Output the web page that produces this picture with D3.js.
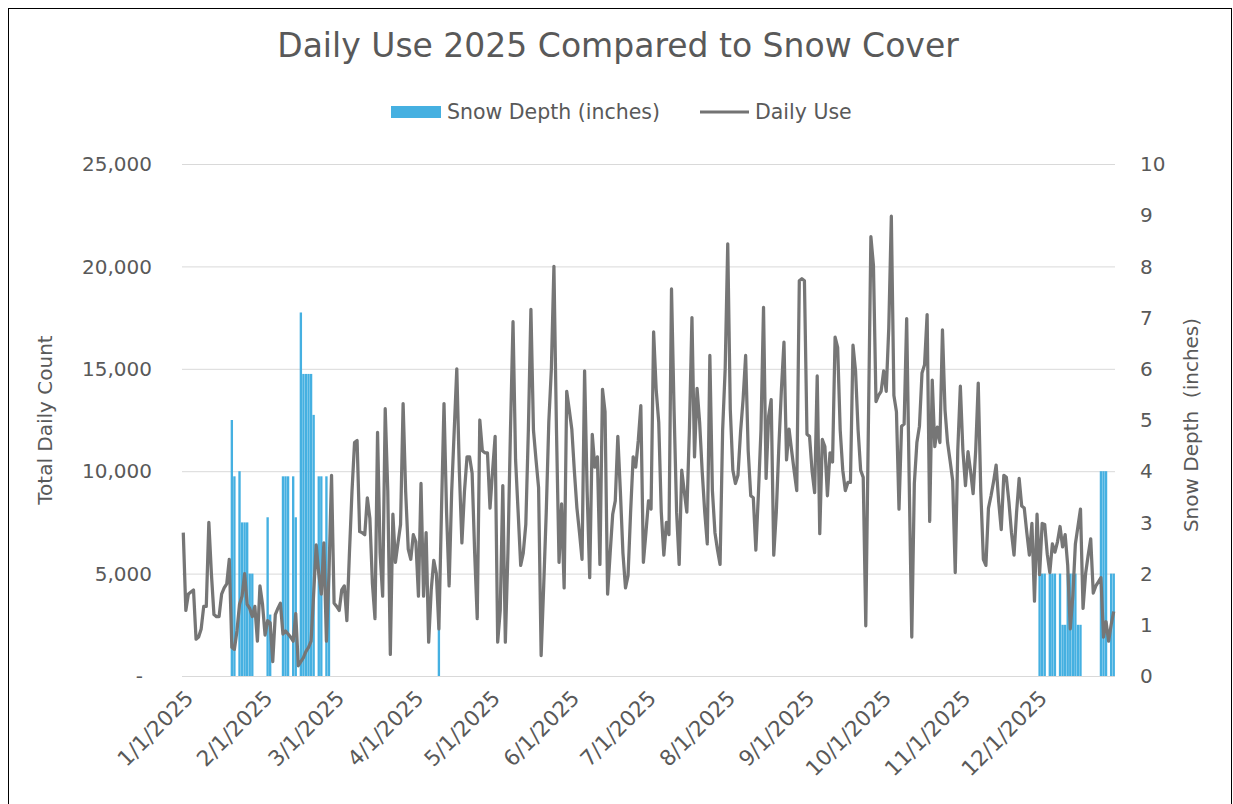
<!DOCTYPE html>
<html>
<head>
<meta charset="utf-8">
<script src="https://cdn.jsdelivr.net/npm/d3@7"></script>
<style>
  body { margin: 0; background: #fff; }
  text { font-family: "DejaVu Sans", sans-serif; fill: #595959; }
</style>
</head>
<body>
<div id="chart"></div>
<script>
// daily use counts, one value per day, by month
const jan = [7000, 3200, 4000, 4100, 4200, 1800, 1900, 2300, 3400, 3400, 7500, 5000, 3000, 2900, 2900, 4000,
  4300, 4500, 5700, 1400, 1300, 2200, 3500, 3900, 5000, 3500, 3300, 2900, 3400, 1700, 4400];
const feb = [3500, 2000, 2700, 2600, 700, 3000, 3300, 3550, 2050, 2200, 2050, 1900, 1700, 3050, 500, 700,
  900, 1200, 1400, 1700, 4000, 6400, 5000, 4000, 6500, 1700, 5000, 9800];
const mar = [3550, 3400, 3200, 4200, 4400, 2700, 6000, 9000, 11400, 11500, 7050, 7000, 6900, 8700, 7700, 4500,
  2800, 11900, 6000, 3900, 13050, 9050, 1050, 7900, 5550, 6500, 7400, 13300, 9000, 6200, 5700];
const apr = [6900, 6550, 3900, 9400, 3900, 7000, 1650, 4200, 5650, 5000, 2300, 8000, 13300, 8000, 4400, 9000,
  12000, 15000, 10000, 6500, 9000, 10700, 10700, 9900, 6000, 2800, 12500, 11000, 10900, 10900];
const may = [8200, 10000, 11700, 1650, 3200, 9300, 1650, 6000, 12000, 17300, 10550, 8000, 5400, 6000, 7400, 12000,
  17900, 12000, 10550, 9200, 1000, 4400, 8000, 12400, 15000, 20000, 12000, 5550, 8400, 4300, 13900];
const jun = [13000, 12050, 10000, 8200, 7000, 5700, 14900, 9000, 4800, 11800, 10200, 10700, 5450, 14000, 12900, 4000,
  6000, 7900, 8550, 11700, 9000, 6000, 4300, 4900, 8000, 10700, 10200, 11500, 13200, 5550];
const jul = [7000, 8550, 8150, 16800, 14000, 12400, 8000, 5900, 7500, 6900, 18900, 13000, 8000, 5450, 10050, 9000,
  8000, 12000, 17500, 10700, 14050, 12400, 10000, 8000, 6450, 15650, 9050, 7000, 6150, 5450, 12000];
const aug = [15000, 21100, 13000, 10050, 9400, 9800, 11900, 13500, 15650, 11000, 8800, 8700, 6150, 8900, 12000, 18000,
  9650, 12700, 13500, 5900, 8000, 11200, 14000, 16300, 10550, 12050, 11000, 10000, 9050, 19300, 19400];
const sep = [19300, 11800, 11700, 10000, 8950, 14650, 6950, 11550, 11200, 8800, 10900, 10450, 16550, 16050, 12000, 10050,
  9050, 9450, 9450, 16150, 14900, 12000, 10050, 9700, 2450, 12000, 21450, 20050, 13400, 13700];
const oct = [13900, 14900, 13900, 17000, 22450, 13700, 12900, 8150, 12200, 12300, 17450, 9450, 1900, 9400, 11400, 12200,
  14800, 15200, 17650, 7550, 14450, 11200, 12150, 11400, 16900, 13000, 11400, 10500, 9550, 5050, 11050];
const nov = [14150, 11000, 9300, 10950, 10000, 8900, 11000, 14300, 9000, 5700, 5400, 8200, 8800, 9500, 10300, 8500,
  7150, 9800, 9700, 8500, 7000, 5900, 8000, 9650, 8300, 8200, 7000, 5900, 7450, 3650];
const dec = [7900, 4950, 7450, 7400, 5950, 5050, 6450, 6050, 6550, 7300, 6300, 6900, 5400, 2300, 3900, 6450,
  7300, 8150, 3300, 5000, 5900, 6700, 4050, 4400, 4600, 4800, 1900, 2650, 1700, 2500, 3150];

// snow depth (inches), days with snow on the ground only
const snowDates = ["1/20", "1/21", "1/23", "1/24", "1/25", "1/26", "1/27", "1/28", "2/3", "2/4",
  "2/9", "2/10", "2/11", "2/13", "2/14", "2/16", "2/17", "2/18", "2/19", "2/20", "2/21", "2/23", "2/24", "2/26", "2/27",
  "4/11",
  "12/2", "12/3", "12/4", "12/6", "12/7", "12/8", "12/10", "12/11", "12/12", "12/13", "12/14", "12/15", "12/16",
  "12/17", "12/18", "12/26", "12/27", "12/28", "12/30", "12/31"];
const snowDepth = [5.0, 3.9, 4.0, 3.0, 3.0, 3.0, 2.0, 2.0, 3.1, 1.2,
  3.9, 3.9, 3.9, 3.9, 3.1, 7.1, 5.9, 5.9, 5.9, 5.9, 5.1, 3.9, 3.9, 3.9, 2.0,
  1.0,
  2, 2, 2, 2, 2, 2, 2, 1, 1, 2, 2, 2, 2,
  1, 1, 4, 4, 4, 2, 2];

const countTicks = [0, 5000, 10000, 15000, 20000, 25000];
const depthTicks = [0, 1, 2, 3, 4, 5, 6, 7, 8, 9, 10];
const monthTicks = ["1/1/2025", "2/1/2025", "3/1/2025", "4/1/2025", "5/1/2025", "6/1/2025",
  "7/1/2025", "8/1/2025", "9/1/2025", "10/1/2025", "11/1/2025", "12/1/2025"];

const dailyUse = [].concat(jan, feb, mar, apr, may, jun, jul, aug, sep, oct, nov, dec);
const parse = d3.timeParse("%m/%d/%Y");
const useData = dailyUse.map((v, i) => ({ date: new Date(2025, 0, 1 + i), value: v }));
const snowData = snowDates.map((d, i) => ({ date: parse(d + "/2025"), value: snowDepth[i] }));

const width = 1233, height = 804;
const svg = d3.select("#chart").append("svg")
  .attr("width", width)
  .attr("height", height);

// chart frame
svg.append("rect")
  .attr("x", 8.5).attr("y", 8.5)
  .attr("width", 1223).attr("height", 800)
  .style("fill", "none")
  .style("stroke", "#000")
  .style("stroke-width", "1px");

const x = d3.scaleTime()
  .domain([d3.timeHour.offset(new Date(2025, 0, 1), -12), d3.timeHour.offset(new Date(2025, 11, 31), 12)])
  .range([182, 1115]);
const yLeft = d3.scaleLinear().domain([0, 25000]).range([676, 164]);
const yRight = d3.scaleLinear().domain([0, 10]).range([676, 164]);

// title
svg.append("text")
  .attr("x", 618).attr("y", 57)
  .attr("text-anchor", "middle")
  .style("font-size", "33px")
  .text("Daily Use 2025 Compared to Snow Cover");

// legend
svg.append("rect")
  .attr("x", 391).attr("y", 106)
  .attr("width", 50).attr("height", 12)
  .style("fill", "#45b0e1");
svg.append("text")
  .attr("x", 447).attr("y", 112)
  .attr("dy", "0.36em")
  .style("font-size", "20.5px")
  .text("Snow Depth (inches)");
svg.append("line")
  .attr("x1", 700).attr("x2", 749)
  .attr("y1", 112).attr("y2", 112)
  .style("stroke", "#737373")
  .style("stroke-width", "3px");
svg.append("text")
  .attr("x", 755).attr("y", 112)
  .attr("dy", "0.36em")
  .style("font-size", "20.5px")
  .text("Daily Use");

// gridlines
svg.append("g")
  .selectAll("line")
  .data(countTicks)
  .join("line")
  .attr("x1", 182).attr("x2", 1115)
  .attr("y1", d => yLeft(d) + 0.5).attr("y2", d => yLeft(d) + 0.5)
  .style("stroke", "#d9d9d9")
  .style("stroke-width", "1px");

// left axis labels
svg.append("g")
  .selectAll("text")
  .data(countTicks)
  .join("text")
  .attr("x", d => d === 0 ? 143 : 152)
  .attr("y", d => yLeft(d))
  .attr("dy", "0.36em")
  .attr("text-anchor", "end")
  .style("font-size", "20px")
  .text(d => d === 0 ? "-" : d3.format(",")(d));

// right axis labels
svg.append("g")
  .selectAll("text")
  .data(depthTicks)
  .join("text")
  .attr("x", 1140)
  .attr("y", d => yRight(d))
  .attr("dy", "0.36em")
  .style("font-size", "20px")
  .text(d => d);

// axis titles
svg.append("text")
  .attr("transform", "translate(52,420) rotate(-90)")
  .attr("text-anchor", "middle")
  .style("font-size", "20px")
  .text("Total Daily Count");
svg.append("text")
  .attr("transform", "translate(1198,425) rotate(-90)")
  .attr("text-anchor", "middle")
  .style("font-size", "20px")
  .style("white-space", "pre")
  .text("Snow Depth  (inches)");

// date labels
svg.append("g")
  .selectAll("text")
  .data(monthTicks)
  .join("text")
  .attr("transform", d => `translate(${x(parse(d)) + 6},${694}) rotate(-45)`)
  .attr("text-anchor", "end")
  .attr("dy", "0.36em")
  .style("font-size", "21.5px")
  .text(d => d);

// snow bars
const dayW = x(new Date(2025, 0, 2)) - x(new Date(2025, 0, 1));
svg.append("g")
  .selectAll("rect")
  .data(snowData)
  .join("rect")
  .attr("x", d => x(d.date) - dayW * 0.46)
  .attr("width", dayW * 0.92)
  .attr("y", d => yRight(d.value))
  .attr("height", d => yRight(0) - yRight(d.value))
  .style("fill", "#45b0e1");

// daily use line
const line = d3.line()
  .x(d => x(d.date))
  .y(d => yLeft(d.value));
svg.append("path")
  .datum(useData)
  .attr("d", line)
  .style("fill", "none")
  .style("stroke", "#767676")
  .style("stroke-width", "3.25px")
  .style("stroke-linejoin", "round");
</script>
</body>
</html>
